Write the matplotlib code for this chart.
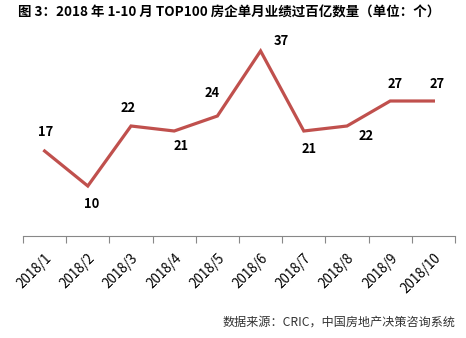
import matplotlib
matplotlib.use("Agg")
import matplotlib.pyplot as plt
from matplotlib.transforms import ScaledTranslation

plt.rcParams["font.family"] = ["Noto Sans CJK SC", "DejaVu Sans"]

months = ["2018/1", "2018/2", "2018/3", "2018/4", "2018/5",
          "2018/6", "2018/7", "2018/8", "2018/9", "2018/10"]
counts = [17, 10, 22, 21, 24, 37, 21, 22, 27, 27]
# where each value label sits relative to its point, in pixels
label_dx = [1, 4, -3, 7, -5, 21, 5, 19, 5, 4]
label_dy = [19, -18, 18, -15, 23, 10, -18, -10, 17, 17]

fig = plt.figure(figsize=(4.66, 3.38), dpi=100)
ax = fig.add_axes([23 / 466, 1 - 236 / 338, 432 / 466, 200 / 338])

x = list(range(len(months)))
ax.plot(x, counts, color="#C0504D", linewidth=2.3, solid_joinstyle="miter")

for xi, v, dx, dy in zip(x, counts, label_dx, label_dy):
    ax.annotate(str(v), (xi, v), xytext=(dx, dy), textcoords="offset pixels",
                ha="center", va="center", fontsize=9.3, fontweight="bold")

ax.set_xlim(-0.5, len(months) - 0.5)
ax.set_ylim(0, 40)
ax.set_yticks([])
ax.set_xticks([i - 0.5 for i in range(len(months) + 1)], minor=False)
ax.set_xticklabels([""] * (len(months) + 1))
ax.set_xticks(x, minor=True)
ax.set_xticklabels(months, minor=True, rotation=45, ha="right",
                   rotation_mode="anchor", fontsize=9.7)
shift = ScaledTranslation(5 / 100, 0, fig.dpi_scale_trans)
for lbl in ax.get_xticklabels(minor=True):
    lbl.set_transform(lbl.get_transform() + shift)
ax.tick_params(axis="x", which="major", length=5, color="#888888")
ax.tick_params(axis="x", which="minor", length=0, pad=11)
for side in ["top", "right", "left"]:
    ax.spines[side].set_visible(False)
ax.spines["bottom"].set_color("#888888")

fig.text(18 / 466, 1 - 13 / 338, "图 3：2018 年 1-10 月 TOP100 房企单月业绩过百亿数量（单位：个）",
         fontsize=9.7, fontweight="bold", va="center", ha="left")
fig.text(456 / 466, 1 - 322 / 338, "数据来源：CRIC，中国房地产决策咨询系统",
         fontsize=8.7, va="center", ha="right", color="#333333")

fig.savefig("out.png", dpi=100)
